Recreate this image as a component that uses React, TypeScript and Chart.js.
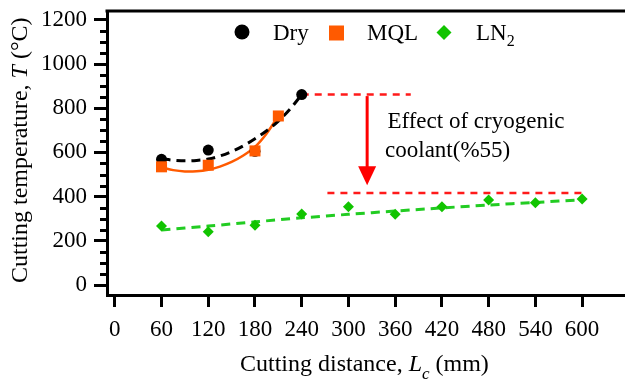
import { useEffect, useRef } from "react";
import { Chart, registerables } from "chart.js";

Chart.register(...registerables);

// Axis ticks
const distanceTicks = [0, 60, 120, 180, 240, 300, 360, 420, 480, 540, 600];
const tempTicks = [0, 200, 400, 600, 800, 1000, 1200];

// Measured cutting temperature (°C) against cutting distance (mm)
const dryX = [60, 120, 180, 240];
const dryT = [569, 611, 605, 862];
const mqlX = [60, 120, 180, 210];
const mqlT = [535, 542, 607, 765];
const ln2X = [60, 120, 180, 240, 300, 360, 420, 480, 540, 600];
const ln2T = [267, 241, 271, 321, 354, 320, 354, 385, 372, 389];

// Trend curves
const dryFitX = [60, 75, 90, 105, 120, 135, 150, 165, 180, 195, 210, 225, 240];
const dryFitT = [571, 565, 562, 564, 570, 584, 604, 630, 662, 698, 742, 796, 862];
const mqlFitX = [60, 75, 90, 105, 120, 135, 150, 165, 180, 195, 210];
const mqlFitT = [533, 520, 514, 515, 522, 536, 557, 586, 625, 686, 765];
const ln2FitX = [60, 120, 180, 240, 300, 360, 420, 480, 540, 600];
const ln2FitT = [249, 267, 286, 304, 320, 335, 349, 362, 374, 386];

// Reference levels and arrow for the cryogenic effect
const upperLevel = 862;
const upperLevelX = [240, 380];
const lowerLevel = 416;
const lowerLevelX = [273, 601];
const arrowX = 324;
const arrowFrom = 855;
const arrowTo = 452;
const noteLines = ["Effect of cryogenic", "coolant(%55)"];

const BLACK = "#000000";
const ORANGE = "#ff5a00";
const GREEN = "#11c400";
const GREEN_LINE = "#22cc22";
const RED = "#ff1a1a";
const SERIF = '"Liberation Serif", "Times New Roman", serif';

Chart.defaults.font.family = SERIF;
Chart.defaults.font.size = 23;
Chart.defaults.color = BLACK;

const pts = (xs: number[], ys: number[]) => xs.map((x, i) => ({ x, y: ys[i] }));

type Run = { text: string; font: string; dy?: number };

function drawRuns(ctx: CanvasRenderingContext2D, runs: Run[], x: number, y: number) {
  let cx = x;
  for (const r of runs) {
    ctx.font = r.font;
    ctx.fillText(r.text, cx, y + (r.dy || 0));
    cx += ctx.measureText(r.text).width;
  }
}

// keep the plot area fixed: labels may overhang the axes ends
const noOverhang = (s: any) => {
  s.paddingTop = 0;
  s.paddingBottom = 0;
  s.paddingLeft = 0;
  s.paddingRight = 0;
};

const decorations = {
  id: "decorations",
  afterDatasetsDraw(chart: any) {
    const ctx: CanvasRenderingContext2D = chart.ctx;
    const xs = chart.scales.x;
    const ys = chart.scales.y;
    // arrow
    const ax = xs.getPixelForValue(arrowX);
    const y0 = ys.getPixelForValue(arrowFrom);
    const y1 = ys.getPixelForValue(arrowTo);
    const headLen = 19;
    ctx.save();
    ctx.strokeStyle = "#ff0000";
    ctx.fillStyle = "#ff0000";
    ctx.lineWidth = 3;
    ctx.beginPath();
    ctx.moveTo(ax, y0);
    ctx.lineTo(ax, y1 - headLen + 2);
    ctx.stroke();
    ctx.beginPath();
    ctx.moveTo(ax - 9, y1 - headLen);
    ctx.lineTo(ax + 9, y1 - headLen);
    ctx.lineTo(ax, y1);
    ctx.closePath();
    ctx.fill();
    ctx.restore();
  },
  afterDraw(chart: any) {
    const ctx: CanvasRenderingContext2D = chart.ctx;
    const { left, right, top } = chart.chartArea;
    const ys = chart.scales.y;
    ctx.save();
    // top frame line
    ctx.strokeStyle = BLACK;
    ctx.lineWidth = 3;
    ctx.beginPath();
    ctx.moveTo(left - 1.5, top);
    ctx.lineTo(right, top);
    ctx.stroke();
    // minor ticks on the temperature axis
    ctx.lineWidth = 3;
    for (let v = 50; v <= 1200; v += 50) {
      if (v % 200 === 0) continue;
      const py = Math.round(ys.getPixelForValue(v)) + 0.5;
      ctx.beginPath();
      ctx.moveTo(left - 7, py);
      ctx.lineTo(left, py);
      ctx.stroke();
    }
    // legend
    ctx.fillStyle = BLACK;
    ctx.beginPath();
    ctx.arc(242, 32, 7.5, 0, Math.PI * 2);
    ctx.fill();
    ctx.fillStyle = ORANGE;
    ctx.fillRect(329, 25.5, 15, 15);
    ctx.fillStyle = GREEN;
    ctx.beginPath();
    ctx.moveTo(444, 25);
    ctx.lineTo(451.5, 32.5);
    ctx.lineTo(444, 40);
    ctx.lineTo(436.5, 32.5);
    ctx.closePath();
    ctx.fill();
    ctx.fillStyle = BLACK;
    ctx.textBaseline = "alphabetic";
    ctx.textAlign = "left";
    const f23 = `23px ${SERIF}`;
    drawRuns(ctx, [{ text: "Dry", font: f23 }], 273, 40);
    drawRuns(ctx, [{ text: "MQL", font: f23 }], 367, 40);
    drawRuns(ctx, [{ text: "LN", font: f23 }, { text: "2", font: `16px ${SERIF}`, dy: 6 }], 476, 40);
    // note beside the arrow
    const xs = chart.scales.x;
    ctx.font = f23;
    ctx.fillText(noteLines[0], xs.getPixelForValue(350), 127.5);
    ctx.fillText(noteLines[1], xs.getPixelForValue(347), 157);
    // axis titles
    const f24 = `24px ${SERIF}`;
    const i24 = `italic 24px ${SERIF}`;
    drawRuns(
      ctx,
      [
        { text: "Cutting distance, ", font: f24 },
        { text: "L", font: i24 },
        { text: "c", font: `italic 17px ${SERIF}`, dy: 8 },
        { text: " (mm)", font: f24 },
      ],
      240,
      371
    );
    ctx.save();
    ctx.translate(27, 283);
    ctx.rotate(-Math.PI / 2);
    drawRuns(
      ctx,
      [
        { text: "Cutting temperature, ", font: f24 },
        { text: "T", font: i24 },
        { text: " (°C)", font: f24 },
      ],
      0,
      0
    );
    ctx.restore();
    ctx.restore();
  },
};

export default function App() {
  const ref = useRef<HTMLCanvasElement | null>(null);

  useEffect(() => {
    if (!ref.current) return;
    const dashed = [9, 6];
    const chart = new Chart(ref.current, {
      type: "scatter",
      data: {
        datasets: [
          {
            label: "MQL",
            data: pts(mqlX, mqlT),
            pointStyle: "rect",
            pointRadius: 7.8,
            backgroundColor: ORANGE,
            borderWidth: 0,
            order: 1,
          },
          {
            label: "Dry",
            data: pts(dryX, dryT),
            pointStyle: "circle",
            pointRadius: 5.5,
            backgroundColor: BLACK,
            borderWidth: 0,
            order: 2,
          },
          {
            label: "LN2",
            data: pts(ln2X, ln2T),
            pointStyle: "rectRot",
            pointRadius: 5.5,
            backgroundColor: GREEN,
            borderWidth: 0,
            order: 0,
          },
          {
            label: "Dry fit",
            type: "line",
            data: pts(dryFitX, dryFitT),
            borderColor: BLACK,
            borderWidth: 3,
            borderDash: dashed,
            pointRadius: 0,
            cubicInterpolationMode: "monotone",
            fill: false,
            order: 4,
          },
          {
            label: "MQL fit",
            type: "line",
            data: pts(mqlFitX, mqlFitT),
            borderColor: ORANGE,
            borderWidth: 2.5,
            pointRadius: 0,
            tension: 0.3,
            fill: false,
            order: 5,
          },
          {
            label: "LN2 fit",
            type: "line",
            data: pts(ln2FitX, ln2FitT),
            borderColor: GREEN_LINE,
            borderWidth: 3,
            borderDash: dashed,
            pointRadius: 0,
            tension: 0.3,
            fill: false,
            order: 5,
          },
          {
            label: "upper level",
            type: "line",
            data: upperLevelX.map((x) => ({ x, y: upperLevel })),
            borderColor: RED,
            borderWidth: 2.5,
            borderDash: [7, 6],
            pointRadius: 0,
            fill: false,
            order: 6,
          },
          {
            label: "lower level",
            type: "line",
            data: lowerLevelX.map((x) => ({ x, y: lowerLevel })),
            borderColor: RED,
            borderWidth: 2.5,
            borderDash: [7, 6],
            pointRadius: 0,
            fill: false,
            order: 6,
          },
        ],
      },
      options: {
        animation: false,
        responsive: false,
        devicePixelRatio: 1,
        layout: { padding: { top: 11, right: 40, left: 0, bottom: 0 } },
        plugins: {
          legend: { display: false },
          tooltip: { enabled: false },
          title: { display: false },
        },
        scales: {
          x: {
            type: "linear",
            min: -10,
            max: 700,
            afterFit: (s: any) => {
              s.height = 88;
              noOverhang(s);
            },
            afterBuildTicks: (s: any) => {
              s.ticks = distanceTicks.map((value) => ({ value }));
            },
            ticks: {
              color: BLACK,
              font: { family: SERIF, size: 23 },
              padding: 9,
              maxRotation: 0,
              autoSkip: false,
              callback: (v: any) => String(v),
            },
            grid: {
              drawOnChartArea: false,
              drawTicks: true,
              tickLength: 12,
              tickWidth: 3,
              tickColor: BLACK,
            },
            border: { display: true, width: 3, color: BLACK },
          },
          y: {
            type: "linear",
            min: -45,
            max: 1240,
            afterFit: (s: any) => {
              s.width = 107;
              noOverhang(s);
            },
            afterBuildTicks: (s: any) => {
              s.ticks = tempTicks.map((value) => ({ value }));
            },
            ticks: {
              color: BLACK,
              font: { family: SERIF, size: 23 },
              padding: 7,
              autoSkip: false,
              callback: (v: any) => String(v),
            },
            grid: {
              drawOnChartArea: false,
              drawTicks: true,
              tickLength: 13,
              tickWidth: 3,
              tickColor: BLACK,
            },
            border: { display: true, width: 3, color: BLACK },
          },
        },
      } as any,
      plugins: [decorations],
    });
    return () => chart.destroy();
  }, []);

  return (
    <canvas
      ref={ref}
      width={700}
      height={383}
      style={{ position: "fixed", left: 0, top: 0, width: 700, height: 383, background: "#ffffff" }}
    />
  );
}
